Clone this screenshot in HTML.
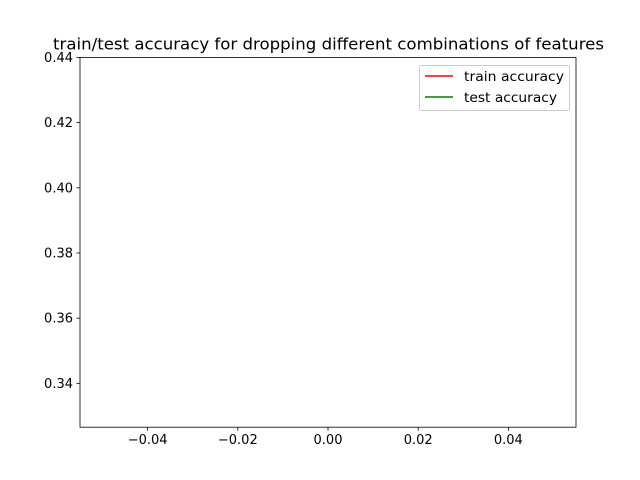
<!DOCTYPE html>
<html><head><meta charset="utf-8"><style>
body{margin:0;background:#fff}
svg{display:block;font-family:"DejaVu Sans","Liberation Sans",sans-serif}
</style></head><body>
<svg id="chart" width="640" height="480">
<rect width="640" height="480" fill="#fff"/>
<text x="53" y="49.5" font-size="16" textLength="551" lengthAdjust="spacingAndGlyphs">train/test accuracy for dropping different combinations of features</text>
<g id="plot"></g>
<rect x="80" y="57.6" width="496" height="369.6" fill="none" stroke="#000" stroke-width="0.8"/>
<g>
<rect x="419.5" y="65.5" width="150" height="45" rx="2" fill="#fff" fill-opacity="0.8" stroke="#ccc"/>
<line x1="425" y1="76" x2="453" y2="76" stroke="red" stroke-width="1.5"/>
<text x="464" y="81" font-size="13" textLength="100" lengthAdjust="spacingAndGlyphs">train accuracy</text>
<line x1="425" y1="97" x2="453" y2="97" stroke="green" stroke-width="1.5"/>
<text x="464" y="102" font-size="13" textLength="93" lengthAdjust="spacingAndGlyphs">test accuracy</text>
</g>
</svg>
<script>
const xValues=[0];
const trainAcc=[0.4348];
const testAcc=[0.3317];
const xTicks=[-0.04,-0.02,0,0.02,0.04];
const xTickLabels=["−0.04","−0.02","0.00","0.02","0.04"];
const yTicks=[0.34,0.36,0.38,0.40,0.42,0.44];
const yTickLabels=["0.34","0.36","0.38","0.40","0.42","0.44"];
const L=80,R=576,T=57.6,B=427.2;
const xMin=-0.055,xMax=0.055;
const all=trainAcc.concat(testAcc);
const dmin=Math.min(...all),dmax=Math.max(...all),pad=(dmax-dmin||0.01)*0.05;
const yMin=dmin-pad,yMax=dmax+pad;
const sx=v=>L+(v-xMin)/(xMax-xMin)*(R-L);
const sy=v=>B-(v-yMin)/(yMax-yMin)*(B-T);
const g=document.getElementById('plot');
const NS='http://www.w3.org/2000/svg';
function mk(t,a){const e=document.createElementNS(NS,t);for(const k in a)e.setAttribute(k,a[k]);g.appendChild(e);return e;}
xTicks.forEach((v,i)=>{
 const l=mk('line',{x1:sx(v),x2:sx(v),y1:B,y2:B+3.5,stroke:'#000','stroke-width':0.8});
 
 
 const t=mk('text',{x:sx(v),y:B+17,'font-size':13,'text-anchor':'middle'});
 t.textContent=xTickLabels[i];
 
 
});
yTicks.forEach((v,i)=>{
 const l=mk('line',{x1:L-3.5,x2:L,y1:sy(v),y2:sy(v),stroke:'#000','stroke-width':0.8});
 
 
 const t=mk('text',{x:L-7,y:sy(v)+4.5,'font-size':13,'text-anchor':'end'});
 t.textContent=yTickLabels[i];
 
 
});
const tr=mk('polyline',{points:xValues.map((x,i)=>sx(x)+','+sy(trainAcc[i])).join(' '),fill:'none',stroke:'red','stroke-width':1.5});


const te=mk('polyline',{points:xValues.map((x,i)=>sx(x)+','+sy(testAcc[i])).join(' '),fill:'none',stroke:'green','stroke-width':1.5});


</script>
</body></html>
